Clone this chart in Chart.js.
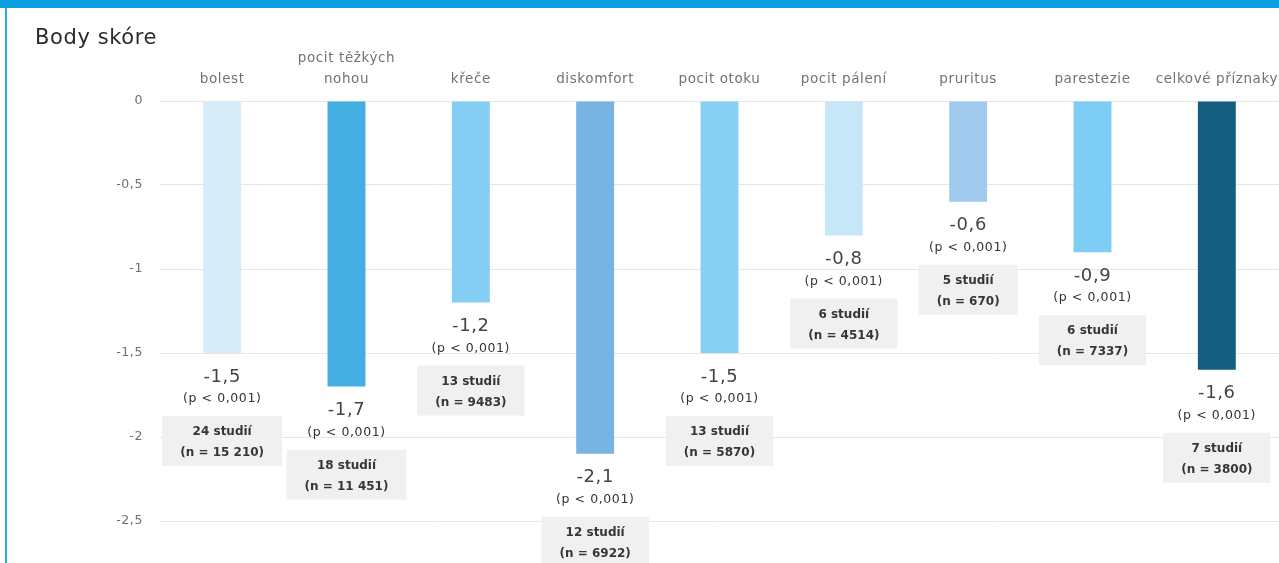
<!DOCTYPE html>
<html>
<head>
<meta charset="utf-8">
<script src="https://cdn.jsdelivr.net/npm/chart.js@4/dist/chart.umd.min.js"></script>
<style>
  html, body { margin: 0; padding: 0; background: #fff; overflow: hidden; }
  #wrap { position: relative; width: 1279px; height: 563px; }
  #band { position: absolute; left: 0; top: 0; width: 1279px; height: 8px; background: #0a9fe1; }
  #edge { position: absolute; left: 5px; top: 8px; width: 2px; height: 555px; background: #2aa9e6; }
</style>
</head>
<body>
<div id="wrap">
  <canvas id="chart" width="1279" height="563"></canvas>
  <div id="band"></div>
  <div id="edge"></div>
</div>
<script>
// chart data
const categories = ['bolest', ['pocit těžkých', 'nohou'], 'křeče', 'diskomfort', 'pocit otoku', 'pocit pálení', 'pruritus', 'parestezie', 'celkové příznaky'];
const scores = [-1.5, -1.7, -1.2, -2.1, -1.5, -0.8, -0.6, -0.9, -1.6];
const pValues = ['(p < 0,001)', '(p < 0,001)', '(p < 0,001)', '(p < 0,001)', '(p < 0,001)', '(p < 0,001)', '(p < 0,001)', '(p < 0,001)', '(p < 0,001)'];
const studies = ['24 studií', '18 studií', '13 studií', '12 studií', '13 studií', '6 studií', '5 studií', '6 studií', '7 studií'];
const patients = ['(n = 15 210)', '(n = 11 451)', '(n = 9483)', '(n = 6922)', '(n = 5870)', '(n = 4514)', '(n = 670)', '(n = 7337)', '(n = 3800)'];
const barColors = ['#d6ecf9', '#44ade2', '#84cdf3', '#77b4e3', '#87d0f3', '#c7e6f8', '#a0cbee', '#7dcdf5', '#155e80'];

const FONT = 'DejaVu Sans';
const SPACING = '0.6px';

// the source text is slightly tracked, canvas resets it on resize
const tracking = {
  id: 'tracking',
  beforeUpdate(chart) { chart.ctx.letterSpacing = SPACING; },
  beforeDraw(chart) { chart.ctx.letterSpacing = SPACING; },
};

// labels under each bar: value, p-value, grey box with study counts
const barNotes = {
  id: 'barNotes',
  afterDatasetsDraw(chart) {
    const ctx = chart.ctx;
    const bars = chart.getDatasetMeta(0).data;
    ctx.save();
    ctx.textAlign = 'center';
    ctx.textBaseline = 'middle';
    bars.forEach((bar, i) => {
      const x = bar.x;
      const y = bar.y;

      ctx.letterSpacing = SPACING;
      ctx.fillStyle = '#444';
      ctx.font = '18px ' + FONT;
      ctx.fillText(String(scores[i]).replace('.', ','), x, y + 24);

      ctx.fillStyle = '#333';
      ctx.font = '12.5px ' + FONT;
      ctx.fillText(pValues[i], x, y + 46);

      ctx.letterSpacing = '0px';
      ctx.font = 'bold 12px ' + FONT;
      const w = Math.max(ctx.measureText(studies[i]).width, ctx.measureText(patients[i]).width) + 36;
      const top = y + 63;
      ctx.fillStyle = '#f0f0f0';
      ctx.fillRect(x - w / 2, top, w, 50);

      ctx.fillStyle = '#363636';
      ctx.fillText(studies[i], x, top + 16);
      ctx.fillText(patients[i], x, top + 37);
    });
    ctx.restore();
  }
};

const config = {
  type: 'bar',
  data: {
    labels: categories,
    datasets: [{
      data: scores,
      backgroundColor: barColors,
      borderWidth: 0,
      barPercentage: 0.61,
      categoryPercentage: 0.5,
    }],
  },
  options: {
    responsive: false,
    animation: false,
    layout: { padding: { left: 35, top: 0, right: 0, bottom: 0 } },
    scales: {
      x: {
        position: 'top',
        grid: { display: false, drawTicks: false },
        border: { display: false },
        ticks: {
          color: '#727272',
          padding: 11,
          maxRotation: 0,
          autoSkip: false,
          font: { family: FONT, size: 13.5, lineHeight: '21px' },
        },
        afterFit(scale) {
          scale.height = 50;
          scale.paddingLeft = 0;
          scale.paddingRight = 0;
        },
      },
      y: {
        min: -2.75,
        max: 0,
        grid: { color: '#e6e6e6', lineWidth: 1, drawTicks: false },
        border: { display: false },
        ticks: {
          stepSize: 0.5,
          color: '#6f6f6f',
          padding: 17,
          font: { family: FONT, size: 12.5 },
          callback: v => String(v).replace('.', ','),
        },
        afterBuildTicks(scale) {
          scale.ticks = scale.ticks.filter(t => Math.abs(t.value * 2 - Math.round(t.value * 2)) < 1e-9);
        },
        afterFit(scale) {
          scale.width = 125;
          scale.paddingTop = 0;
          scale.paddingBottom = 0;
        },
      },
    },
    plugins: {
      legend: { display: false },
      tooltip: { enabled: false },
      title: {
        display: true,
        text: 'Body skóre',
        align: 'start',
        color: '#2b2b2b',
        font: { family: FONT, size: 21, weight: 'normal', lineHeight: '24px' },
        padding: { top: 27, bottom: 0 },
      },
    },
  },
  plugins: [tracking, barNotes],
};

new Chart(document.getElementById('chart'), config);
</script>
</body>
</html>
